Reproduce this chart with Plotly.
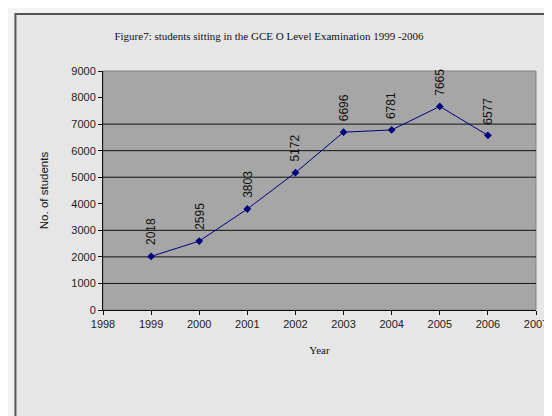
import plotly.graph_objects as go

years = [1999, 2000, 2001, 2002, 2003, 2004, 2005, 2006]
students = [2018, 2595, 3803, 5172, 6696, 6781, 7665, 6577]
x_ticks = [1998, 1999, 2000, 2001, 2002, 2003, 2004, 2005, 2006, 2007]
y_ticks = [0, 1000, 2000, 3000, 4000, 5000, 6000, 7000, 8000, 9000]
grid_lines = [1000, 2000, 3000, 5000, 6000, 7000]

W, H = 552, 416
L, R, T, B = 95, 12, 63, 114
pw, ph = W - L - R, H - T - B

def px_x(p):
    return (p - L) / pw

def px_y(p):
    return (H - B - p) / ph

fig = go.Figure()
fig.add_trace(go.Scatter(
    x=years, y=students, mode="lines+markers",
    line=dict(color="#000080", width=1),
    marker=dict(symbol="diamond", size=6, color="#000080"),
    showlegend=False, hoverinfo="skip",
))

shapes = [
    dict(type="rect", xref="paper", yref="paper", layer="below",
         x0=px_x(5), x1=px_x(600), y0=px_y(460), y1=px_y(6),
         fillcolor="#e6e6e6", line=dict(color="#555555", width=2)),
    dict(type="rect", xref="paper", yref="paper", layer="below",
         x0=0, x1=1, y0=0, y1=1,
         fillcolor="#a6a6a6", line=dict(color="#808080", width=1)),
]
for g in grid_lines:
    shapes.append(dict(type="line", xref="paper", yref="y", layer="below",
                       x0=0, x1=1, y0=g, y1=g,
                       line=dict(color="#111111", width=1)))

annotations = []
for yr, v in zip(years, students):
    annotations.append(dict(
        x=yr, y=v, xref="x", yref="y", text=str(v), showarrow=False,
        textangle=-90, yanchor="bottom", xanchor="center", yshift=9,
        font=dict(family="Liberation Sans, Arial", size=12, color="#111111"),
    ))

fig.update_layout(
    width=W, height=H,
    margin=dict(l=L, r=R, t=T, b=B, pad=0),
    paper_bgcolor="#f3f3f3",
    plot_bgcolor="rgba(0,0,0,0)",
    shapes=shapes,
    annotations=annotations,
    title=dict(
        text="Figure7: students sitting in the GCE O Level Examination 1999 -2006",
        x=261 / W, xanchor="center", xref="container",
        y=1 - 28 / H, yanchor="middle", yref="container",
        font=dict(family="Liberation Serif, Times New Roman", size=11, color="#111111"),
    ),
    xaxis=dict(
        range=[1998, 2007], tickvals=x_ticks, ticktext=[str(t) for t in x_ticks],
        ticklabeloverflow="allow",
        showgrid=False, zeroline=False, showline=True, linecolor="#111111", linewidth=1,
        ticks="outside", ticklen=4, tickcolor="#111111",
        tickfont=dict(family="Liberation Sans, Arial", size=11, color="#222222"),
        title=dict(text="Year", standoff=17,
                   font=dict(family="Liberation Serif, Times New Roman", size=11, color="#111111")),
    ),
    yaxis=dict(
        range=[0, 9000], tickvals=y_ticks,
        showgrid=False, zeroline=False, showline=True, linecolor="#111111", linewidth=1,
        ticks="outside", ticklen=4, tickcolor="#111111",
        tickfont=dict(family="Liberation Sans, Arial", size=11, color="#222222"),
        title=dict(text="No. of students", standoff=20,
                   font=dict(family="Liberation Sans, Arial", size=11.5, color="#111111")),
    ),
)

fig.write_html("out.html")
